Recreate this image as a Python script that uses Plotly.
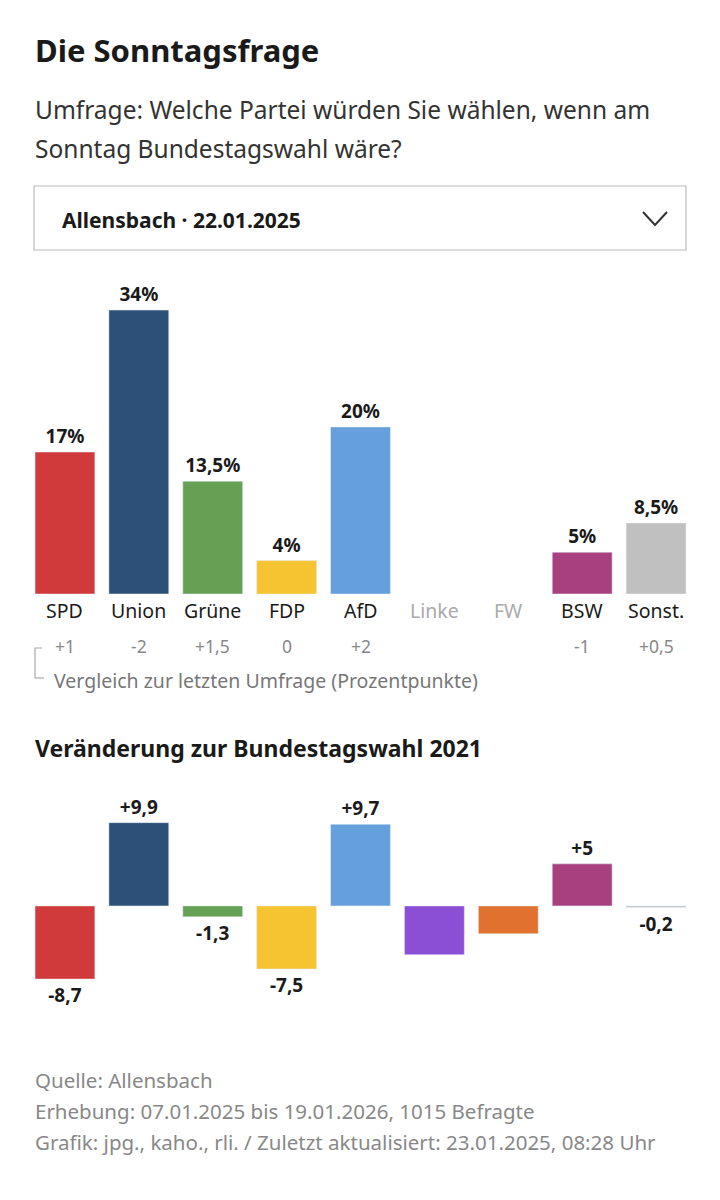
import plotly.graph_objects as go

parties = ["SPD", "Union", "Grüne", "FDP", "AfD", "Linke", "FW", "BSW", "Sonst."]
poll = [17, 34, 13.5, 4, 20, None, None, 5, 8.5]
poll_labels = ["<b>17%</b>", "<b>34%</b>", "<b>13,5%</b>", "<b>4%</b>", "<b>20%</b>", "", "", "<b>5%</b>", "<b>8,5%</b>"]
change_last = ["+1", "-2", "+1,5", "0", "+2", "", "", "-1", "+0,5"]
change_2021 = [-8.7, 9.9, -1.3, -7.5, 9.7, -5.8, -3.3, 5, -0.2]
change_2021_labels = ["<b>-8,7</b>", "<b>+9,9</b>", "<b>-1,3</b>", "<b>-7,5</b>", "<b>+9,7</b>", "", "", "<b>+5</b>", "<b>-0,2</b>"]
colors = ["#d13a3a", "#2c5078", "#65a055", "#f6c431", "#659fdc", "#8b4fd6", "#e0712f", "#a8407f", "#c0c0c0"]

F = "Noto Sans"
W, H = 720, 1200
OFF = 8
def py(p): return 1 - (p - OFF) / H
def px(p): return (p - OFF) / W

fig = go.Figure()
fig.add_trace(go.Bar(x=parties, y=poll, marker_color=colors, width=0.81,
                     text=poll_labels, textposition="outside", cliponaxis=False,
                     textfont=dict(family=F, size=19, color="#1a1a1a"),
                     xaxis="x", yaxis="y", hoverinfo="skip"))
fig.add_trace(go.Bar(x=parties, y=change_2021, marker_color=colors, width=0.81,
                     text=change_2021_labels, textposition="outside", cliponaxis=False,
                     textfont=dict(family=F, size=19, color="#1a1a1a"),
                     xaxis="x2", yaxis="y2", hoverinfo="skip"))

dom = [px(28), px(693)]
fig.update_layout(
    width=W, height=H, margin=dict(l=0, r=0, t=0, b=0),
    paper_bgcolor="white", plot_bgcolor="white", showlegend=False,
    xaxis=dict(domain=dom, showticklabels=False, showgrid=False, zeroline=False, anchor="y", fixedrange=True),
    yaxis=dict(domain=[py(594), py(260)], range=[0, 40], visible=False, anchor="x"),
    xaxis2=dict(domain=dom, showticklabels=False, showgrid=False, zeroline=False, anchor="y2"),
    yaxis2=dict(domain=[py(990), py(805)], range=[-10, 12], visible=False, anchor="x2"),
    font=dict(family=F),
)

ann = []
def t(x, y, s, size, color="#1a1a1a", bold=False, xa="left"):
    ann.append(dict(x=px(x), y=py(y), xref="paper", yref="paper", text=("<b>%s</b>" % s) if bold else s,
                    showarrow=False, xanchor=xa, yanchor="middle",
                    font=dict(family=F, size=size, color=color)))

t(33, 50, "Die Sonntagsfrage", 31, bold=True)
t(33, 110, "Umfrage: Welche Partei würden Sie wählen, wenn am", 24.5, "#333")
t(33, 148, "Sonntag Bundestagswahl wäre?", 24.5, "#333")
t(60, 220, "Allensbach · 22.01.2025", 21, bold=True)
t(33, 748, "Veränderung zur Bundestagswahl 2021", 23, bold=True)
t(52, 680, "Vergleich zur letzten Umfrage (Prozentpunkte)", 19.5, "#777")
t(33, 1080, "Quelle: Allensbach", 20.5, "#888")
t(33, 1111, "Erhebung: 07.01.2025 bis 19.01.2026, 1015 Befragte", 20.5, "#888")
t(33, 1142, "Grafik: jpg., kaho., rli. / Zuletzt aktualisiert: 23.01.2025, 08:28 Uhr", 20.5, "#888")

for i, p in enumerate(parties):
    grey = poll[i] is None
    ann.append(dict(x=p, y=py(611), xref="x", yref="paper", text=p, showarrow=False, yanchor="middle",
                    font=dict(family=F, size=19.5, color="#aaa" if grey else "#1a1a1a")))
    if change_last[i]:
        ann.append(dict(x=p, y=py(646), xref="x", yref="paper", text=change_last[i], showarrow=False,
                        yanchor="middle", font=dict(family=F, size=17.5, color="#888")))
fig.update_layout(annotations=ann)

fig.add_shape(type="rect", xref="paper", yref="paper", x0=px(34), x1=px(686), y0=py(250), y1=py(186),
              line=dict(color="#bbb", width=1.2), fillcolor="white", layer="below")
fig.add_shape(type="path", xref="paper", yref="paper",
              path="M %f %f L %f %f L %f %f" % (px(643), py(212), px(655), py(225), px(667), py(212)),
              line=dict(color="#333", width=2))
fig.add_shape(type="path", xref="paper", yref="paper",
              path="M %f %f L %f %f L %f %f" % (px(42), py(648), px(35), py(648), px(35), py(678)),
              line=dict(color="#aaa", width=1.2))
fig.add_shape(type="line", xref="paper", yref="paper", x0=px(35), x1=px(44), y0=py(678), y1=py(678),
              line=dict(color="#aaa", width=1.2))

fig.write_html("out.html")
